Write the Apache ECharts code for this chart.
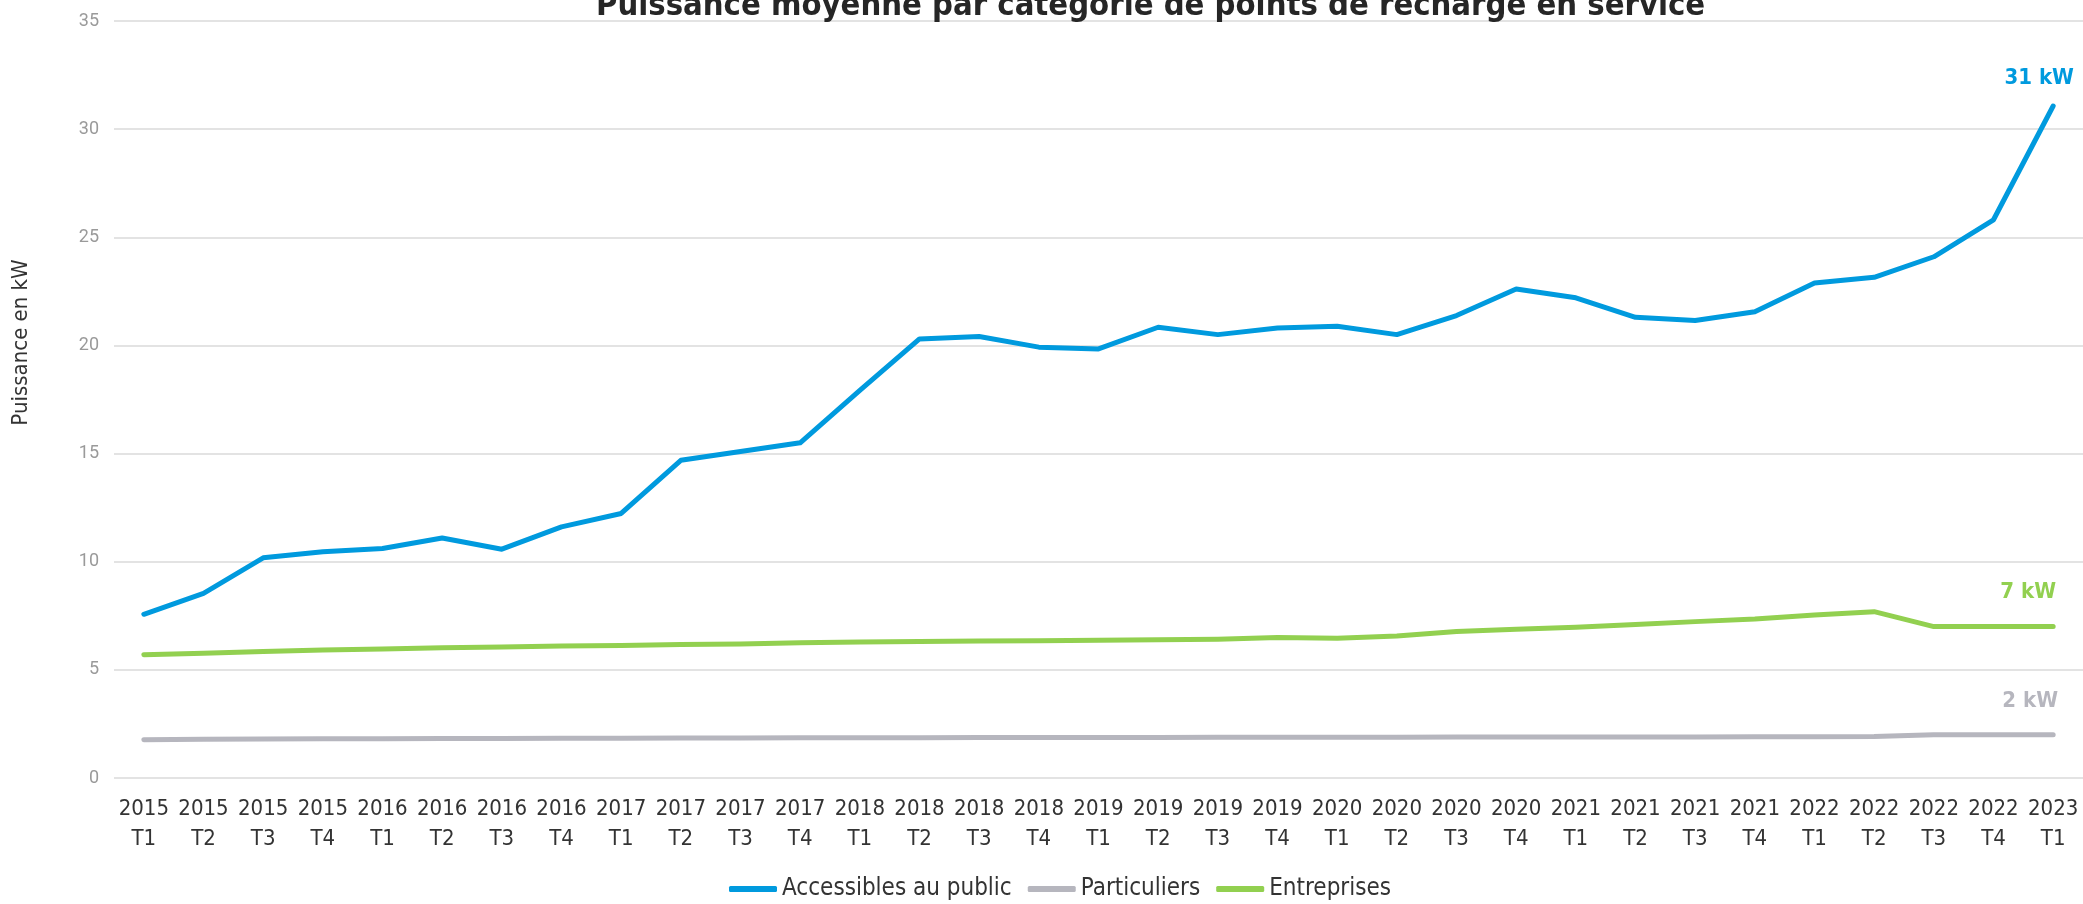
<!DOCTYPE html>
<html>
<head>
<meta charset="utf-8">
<script src="https://cdn.jsdelivr.net/npm/echarts@6/dist/echarts.min.js"></script>
<style>
html, body { margin: 0; padding: 0; background: #fff; }
#chart { width: 2083px; height: 904px; }
</style>
</head>
<body>
<div id="chart"></div>
<script>
var quarters = [
  '2015\nT1','2015\nT2','2015\nT3','2015\nT4',
  '2016\nT1','2016\nT2','2016\nT3','2016\nT4',
  '2017\nT1','2017\nT2','2017\nT3','2017\nT4',
  '2018\nT1','2018\nT2','2018\nT3','2018\nT4',
  '2019\nT1','2019\nT2','2019\nT3','2019\nT4',
  '2020\nT1','2020\nT2','2020\nT3','2020\nT4',
  '2021\nT1','2021\nT2','2021\nT3','2021\nT4',
  '2022\nT1','2022\nT2','2022\nT3','2022\nT4',
  '2023\nT1'
];

var publicPower = [
  7.57, 8.54, 10.18, 10.46, 10.61, 11.1, 10.58, 11.61,
  12.23, 14.69, 15.1, 15.5, 17.92, 20.3, 20.41, 19.92,
  19.84, 20.84, 20.5, 20.81, 20.89, 20.5, 21.38, 22.61,
  22.2, 21.3, 21.15, 21.56, 22.89, 23.15, 24.1, 25.81,
  31.07
];

var particuliersPower = [
  1.77, 1.79, 1.8, 1.81, 1.82, 1.83, 1.83, 1.84,
  1.84, 1.85, 1.85, 1.86, 1.86, 1.86, 1.87, 1.87,
  1.87, 1.87, 1.88, 1.88, 1.88, 1.88, 1.89, 1.89,
  1.89, 1.9, 1.9, 1.91, 1.91, 1.92, 2.0, 2.0,
  2.0
];

var entreprisesPower = [
  5.7, 5.77, 5.85, 5.92, 5.97, 6.02, 6.06, 6.1,
  6.13, 6.17, 6.2, 6.25, 6.29, 6.31, 6.33, 6.35,
  6.37, 6.39, 6.42, 6.5, 6.46, 6.57, 6.77, 6.88,
  6.97, 7.1, 7.23, 7.35, 7.54, 7.69, 7.0, 7.0,
  7.0
];

var seriesNames = ['Accessibles au public', 'Particuliers', 'Entreprises'];
var endLabels = ['31 kW', '2 kW', '7 kW'];
var colors = ['#009ADE', '#B6B6BE', '#92D050'];

var narrow = '"Liberation Sans Narrow", "DejaVu Sans Condensed", "Arial Narrow", sans-serif';

function makeSeries(idx, values, offset) {
  return {
    name: seriesNames[idx],
    type: 'line',
    data: values,
    symbol: 'none',
    color: colors[idx],
    lineStyle: { width: 5, color: colors[idx], cap: 'round', join: 'round' },
    endLabel: {
      show: true,
      formatter: endLabels[idx],
      color: colors[idx],
      fontFamily: narrow,
      fontWeight: 'bold',
      fontSize: 22,
      align: 'center',
      verticalAlign: 'middle',
      offset: offset
    }
  };
}

var myChart = echarts.init(document.getElementById('chart'));
var option = {
  backgroundColor: '#fff',
  animation: false,
  title: {
    text: 'Puissance moyenne par catégorie de points de recharge en service',
    left: 591,
    top: -15,
    textStyle: {
      fontFamily: narrow,
      fontWeight: 'bold',
      fontSize: 32.5,
      color: '#262626'
    }
  },
  legend: {
    left: 724,
    top: 872,
    itemGap: 16,
    itemWidth: 48,
    itemHeight: 6,
    icon: 'roundRect',
    textStyle: { fontFamily: narrow, fontSize: 24, color: '#333' },
    data: seriesNames
  },
  grid: { left: 114, top: 21, width: 1973, height: 757 },
  xAxis: {
    type: 'category',
    data: quarters,
    boundaryGap: true,
    axisLine: { show: false },
    axisTick: { show: false },
    axisLabel: {
      interval: 0,
      margin: 16,
      fontFamily: narrow,
      fontSize: 22,
      lineHeight: 30,
      color: '#333'
    }
  },
  yAxis: {
    type: 'value',
    min: 0,
    max: 35,
    interval: 5,
    name: 'Puissance en kW',
    nameLocation: 'middle',
    nameGap: 82,
    nameRotate: 90,
    nameTextStyle: {
      fontFamily: narrow,
      fontSize: 22,
      color: '#333',
      padding: [0, 0, 0, 114]
    },
    axisLine: { show: false },
    axisTick: { show: false },
    axisLabel: {
      margin: 15,
      fontFamily: 'Roboto, "Liberation Sans", sans-serif',
      fontSize: 18,
      color: '#9a9a9a'
    },
    splitLine: { lineStyle: { color: '#E3E3E3', width: 2 } }
  },
  series: [
    makeSeries(0, publicPower, [-22, -28]),
    makeSeries(1, particuliersPower, [-31, -33]),
    makeSeries(2, entreprisesPower, [-33, -34])
  ]
};
myChart.setOption(option);
</script>
</body>
</html>
